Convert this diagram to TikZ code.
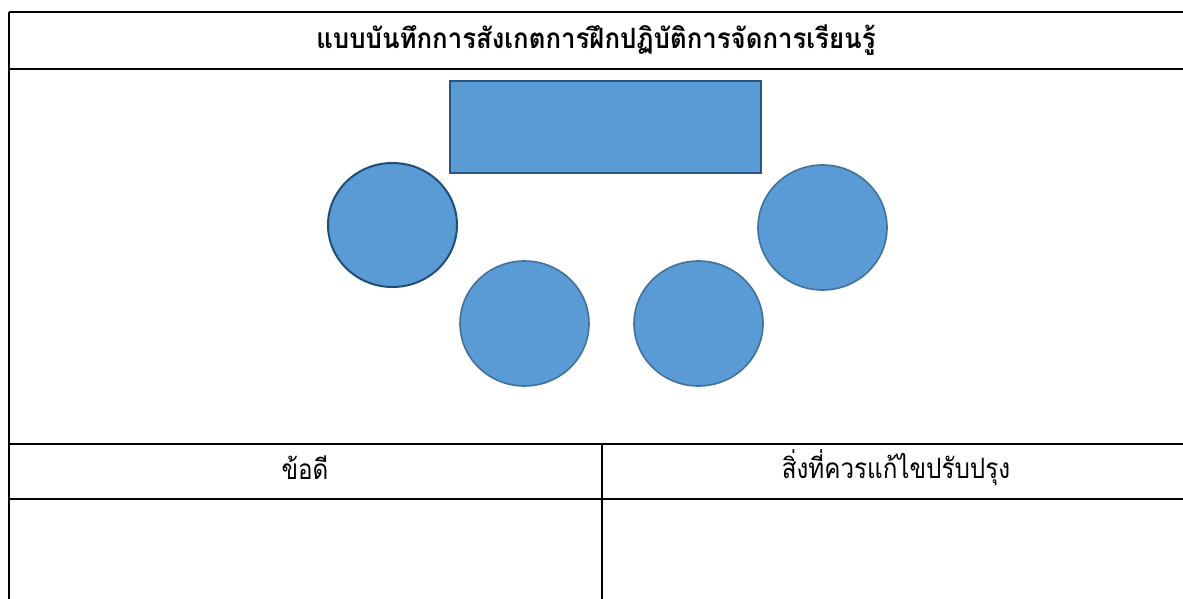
\documentclass[tikz,border=0pt]{standalone}
\usepackage{fontspec}
\newfontfamily\thaititle[Script=Thai,FakeStretch=0.92]{Loma}
\newfontfamily\thaihead[Script=Thai,FakeStretch=0.865]{Loma}
\usetikzlibrary{shapes.geometric}
\definecolor{shapefill}{HTML}{5B9BD5}
\definecolor{shapeline}{HTML}{41719C}
\definecolor{darkline}{HTML}{1F4E79}
\definecolor{rectline}{HTML}{29557F}
\tikzset{
  tableline/.style={draw=black, line width=2.4pt},
  seat/.style={ellipse, draw=shapeline, fill=shapefill, line width=1.6pt, inner sep=0pt, minimum width=129pt, minimum height=125pt},
  deskbox/.style={rectangle, draw=rectline, fill=shapefill, line width=2pt, inner sep=0pt, minimum width=311pt, minimum height=92pt},
  titletext/.style={font=\thaititle\bfseries\fontsize{28}{32}\selectfont, inner sep=0pt},
  headtext/.style={font=\thaihead\fontsize{28}{32}\selectfont, inner sep=0pt}
}
\begin{document}
\begin{tikzpicture}[x=1pt,y=-1pt]
\useasboundingbox (0,0) rectangle (1183,599);
% table grid
\coordinate (tl) at (9,12);
\coordinate (tr) at (1183,12);
\coordinate (bl) at (9,599);
\coordinate (t1l) at (9,69);
\coordinate (t1r) at (1183,69);
\coordinate (t2l) at (9,444);
\coordinate (t2r) at (1183,444);
\coordinate (t3l) at (9,499);
\coordinate (t3r) at (1183,499);
\coordinate (mt) at (602,444);
\coordinate (mb) at (602,599);
\draw[tableline] (tl) -- (tr);
\draw[tableline] (tl) -- (bl);
\draw[tableline] (t1l) -- (t1r);
\draw[tableline] (t2l) -- (t2r);
\draw[tableline] (t3l) -- (t3r);
\draw[tableline] (mt) -- (mb);
% title and headers
\node[titletext] (title) at (596,40) {แบบบันทึกการสังเกตการฝึกปฏิบัติการจัดการเรียนรู้};
\node[headtext] (good) at (305,468) {ข้อดี};
\node[headtext] (improve) at (896,468) {สิ่งที่ควรแก้ไขปรับปรุง};
% desk and seats
\node[deskbox] (desk) at (605.5,127) {};
\node[seat, draw=darkline, line width=2pt, minimum height=124pt] (s1) at (392.5,225) {};
\node[seat] (s2) at (524.5,323.5) {};
\node[seat] (s3) at (698.5,323.5) {};
\node[seat] (s4) at (822.5,227.5) {};
\end{tikzpicture}
\end{document}
